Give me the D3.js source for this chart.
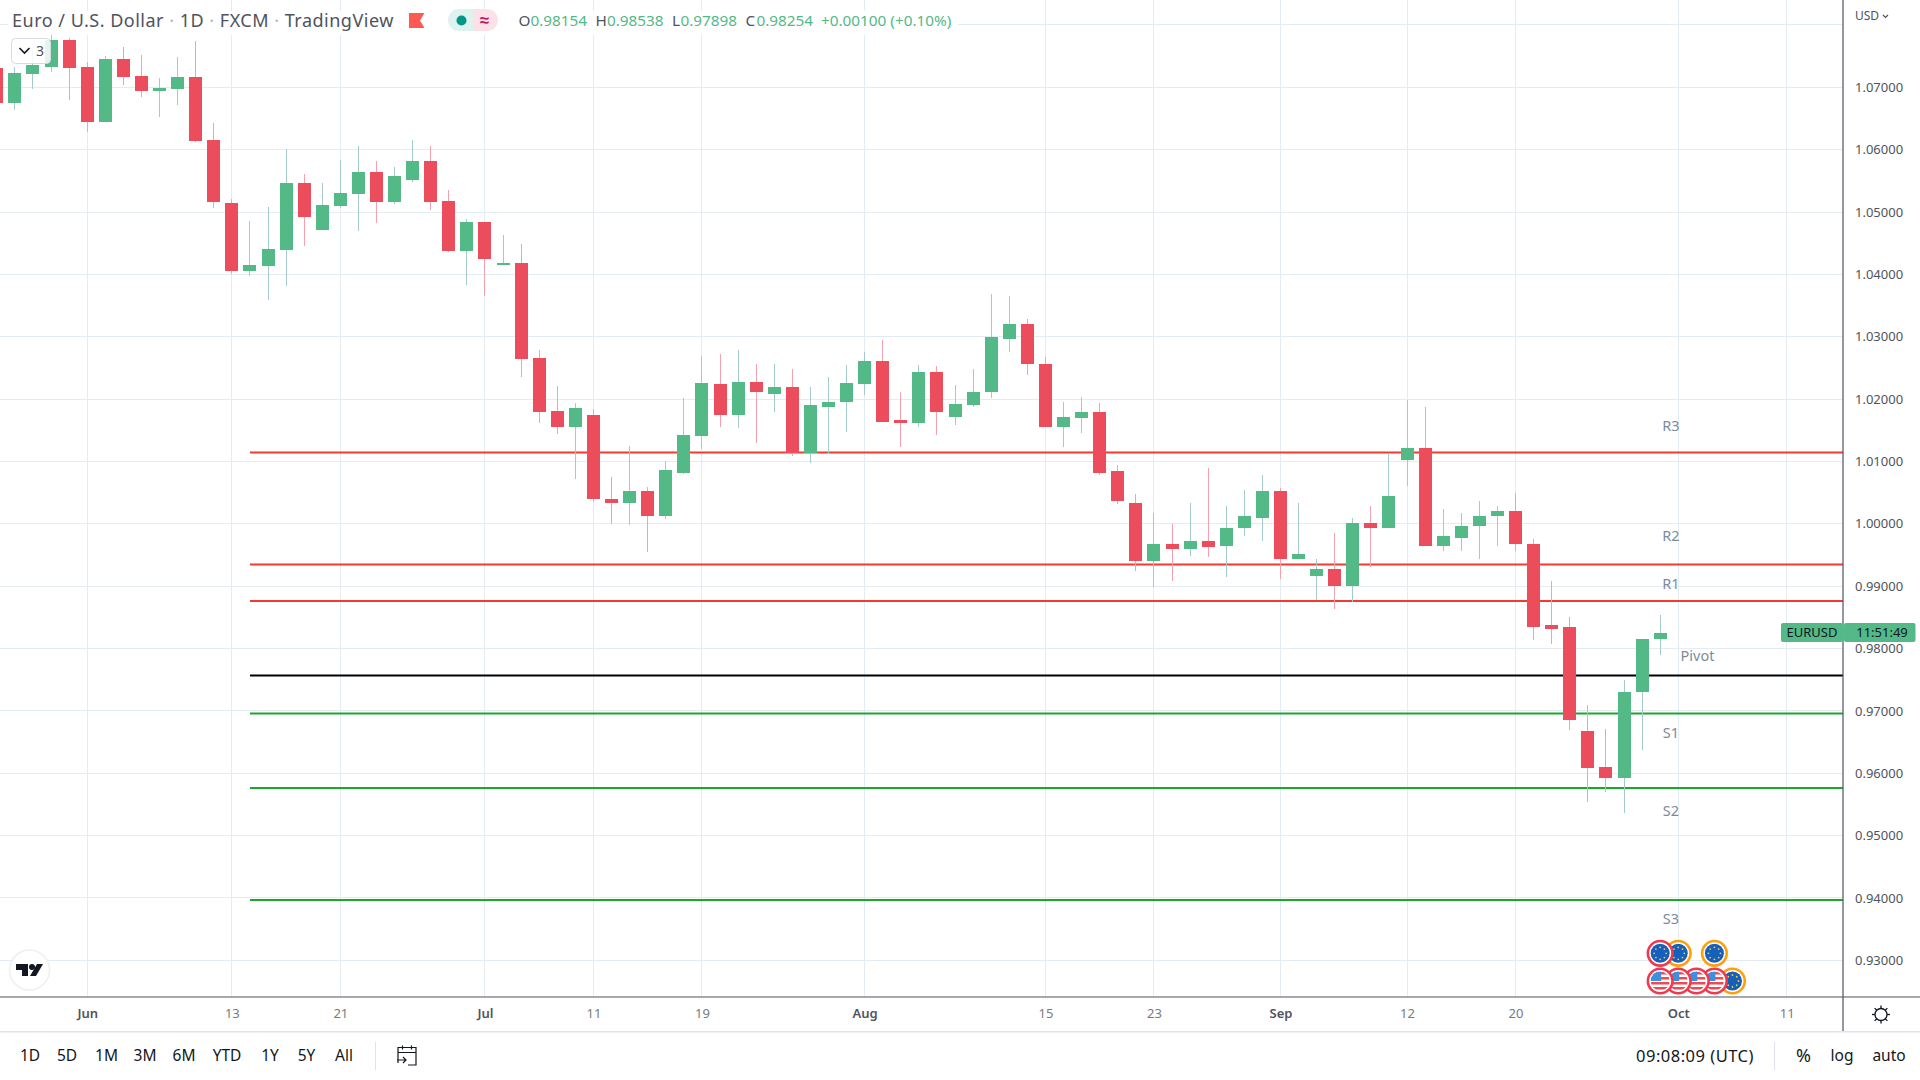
<!DOCTYPE html>
<html>
<head>
<meta charset="utf-8">
<title>EURUSD</title>
<script src="https://cdn.jsdelivr.net/npm/d3@7"></script>
<style>
    html, body { margin: 0; background: #fff; }
    svg { display: block; font-family: "Noto Sans", sans-serif; }
    .axis path, .axis line { display: none; }
    .axis text { font-family: "Noto Sans", sans-serif; }
</style>
</head>
<body>
<svg id="chart" width="1920" height="1080"></svg>
<script>
//daily candles, index 0 is the partly hidden bar on the left edge
const opens = [1.0731,1.0675,1.0721,1.0733,1.0776,1.0733,1.0644,1.0745,1.0718,1.0694,1.0697,1.0717,1.0616,1.0515,1.0405,1.0414,1.0439,1.0547,1.0471,1.0510,1.0529,1.0564,1.0516,1.0551,1.0582,1.0518,1.0438,1.0484,1.0415,1.0418,
    1.0266,1.0181,1.0156,1.0175,1.0040,1.0034,1.0053,1.0013,1.0082,1.0141,1.0224,1.0174,1.0227,1.0208,1.0219,1.0113,1.0188,1.0195,1.0224,1.0261,1.0166,1.0161,1.0244,1.0172,1.0190,1.0211,1.0297,1.0321,1.0257,1.0156,
    1.0169,1.0179,1.0084,1.0034,0.9940,0.9968,0.9960,0.9973,0.9964,0.9993,1.0010,1.0052,0.9943,0.9916,0.9927,0.9901,1.0002,0.9993,1.0103,1.0121,0.9965,0.9978,0.9996,1.0012,1.0021,0.9968,0.9837,0.9834,0.9668,0.9610,
    0.9593,0.9730,0.98154];
const highs = [1.0745,1.0732,1.0760,1.0787,1.0779,1.0740,1.0750,1.0765,1.0752,1.0715,1.0749,1.0774,1.0643,1.0521,1.0486,1.0508,1.0601,1.0561,1.0547,1.0583,1.0606,1.0582,1.0572,1.0616,1.0606,1.0535,1.0489,1.0484,1.0463,1.0449,
    1.0278,1.0221,1.0193,1.0184,1.0075,1.0124,1.0059,1.0100,1.0202,1.0269,1.0273,1.0279,1.0256,1.0257,1.0249,1.0220,1.0235,1.0254,1.0276,1.0295,1.0211,1.0254,1.0253,1.0222,1.0248,1.0368,1.0365,1.0328,1.0268,1.0195,
    1.0203,1.0193,1.0095,1.0047,1.0018,0.9999,1.0033,1.0090,1.0029,1.0055,1.0079,1.0057,1.0034,0.9944,0.9986,1.0010,1.0029,1.0113,1.0198,1.0187,1.0023,1.0018,1.0036,1.0029,1.0050,0.9975,0.9908,0.9851,0.9709,0.9671,
    0.9750,0.9816,0.98538];
const lows = [1.0665,1.0663,1.0698,1.0725,1.0680,1.0628,1.0644,1.0703,1.0684,1.0652,1.0672,1.0612,1.0507,1.0401,1.0397,1.0359,1.0381,1.0446,1.0471,1.0507,1.0470,1.0482,1.0513,1.0548,1.0503,1.0436,1.0383,1.0365,1.0415,1.0236,
    1.0162,1.0144,1.0072,1.0035,1.0000,0.9998,0.9954,1.0008,1.0080,1.0120,1.0155,1.0153,1.0129,1.0179,1.0108,1.0097,1.0114,1.0147,1.0206,1.0163,1.0123,1.0155,1.0142,1.0159,1.0188,1.0201,1.0275,1.0238,1.0155,1.0123,
    1.0145,1.0079,1.0031,0.9925,0.9899,0.9909,0.9949,0.9946,0.9914,0.9981,0.9972,0.9911,0.9943,0.9877,0.9864,0.9875,0.9930,0.9993,1.0060,0.9965,0.9956,0.9956,0.9944,0.9965,0.9956,0.9813,0.9807,0.9669,0.9554,0.9570,
    0.9536,0.9637,0.97898];
const closes = [1.0675,1.0723,1.0736,1.0776,1.0731,1.0644,1.0745,1.0717,1.0694,1.0699,1.0717,1.0614,1.0516,1.0405,1.0415,1.0441,1.0547,1.0492,1.0511,1.0531,1.0564,1.0516,1.0558,1.0582,1.0516,1.0438,1.0484,1.0425,1.0418,1.0265,
    1.0180,1.0156,1.0186,1.0039,1.0034,1.0053,1.0013,1.0087,1.0143,1.0225,1.0174,1.0227,1.0212,1.0219,1.0113,1.0190,1.0196,1.0225,1.0261,1.0164,1.0161,1.0244,1.0179,1.0192,1.0212,1.0299,1.0321,1.0256,1.0156,1.0171,
    1.0179,1.0082,1.0037,0.9940,0.9968,0.9960,0.9973,0.9962,0.9994,1.0012,1.0052,0.9943,0.9952,0.9927,0.9901,1.0002,0.9993,1.0044,1.0121,0.9965,0.9980,0.9997,1.0012,1.0021,0.9967,0.9835,0.9832,0.9685,0.9609,0.9593,
    0.9731,0.9816,0.98254];

const priceTicks = [0.93,0.94,0.95,0.96,0.97,0.98,0.99,1.00,1.01,1.02,1.03,1.04,1.05,1.06,1.07];
const gridOnlyPrice = 1.08; //label is covered by the USD button
const timeTickIndex = [5,13,19,27,33,39,48,58,64,71,78,84,93,99];
const timeTickLabels = ["Jun","13","21","Jul","11","19","Aug","15","23","Sep","12","20","Oct","11"];
const monthLabels = ["Jun","Jul","Aug","Sep","Oct"];

//pivot levels
const levelNames = ["R3","R2","R1","Pivot","S1","S2","S3"];
const levelValues = [1.01144,0.99348,0.98760,0.97568,0.96959,0.95765,0.93969];
const levelColors = ["#f23b2f","#f23b2f","#f23b2f","#000000","#1aa82a","#1aa82a","#1aa82a"];
const levelLabelOffset = [-26.8,-28.8,-17.2,-19.8,19.2,22.8,19.5]; //gap label to line, px

//economic calendar marks, drawn back to front: bar index, flag, importance
const eventIndex = [95,93,92,96,95,94,93,92];
const eventFlag = ["eu","eu","eu","eu","us","us","us","us"];
const eventImpact = ["mid","mid","high","mid","high","high","high","high"];
const eventRow = [0,0,0,1,1,1,1,1];

const rangeButtons = ["1D","5D","1M","3M","6M","YTD","1Y","5Y","All"];
const rangeButtonX = [30,67,106.5,145,184,227,270,306.5,344];

const width = 1920, height = 1080;
const axisX = 1843, axisY = 997;
const upColor = "#53b987", downColor = "#eb4d5c";
const upWick = "#a3cbcb", downWick = "#f4a3ae";
const gridColor = "#e3ecf2", axisColor = "#50535e", textColor = "#131722";

const x = d3.scaleLinear().domain([0, 100]).range([-3.2, 1804.8]);
const y = d3.scaleLinear().domain([0.93, 1.07]).range([960.3, 87.3]);

const svg = d3.select("#chart");

//grid
const gridGroup = svg.append("g").attr("shape-rendering", "crispEdges");
gridGroup.selectAll(".hgrid")
    .data([...priceTicks, gridOnlyPrice])
    .join("line")
    .attr("x1", 0).attr("x2", axisX)
    .attr("y1", d => y(d)).attr("y2", d => y(d))
    .attr("stroke", gridColor);
gridGroup.selectAll(".vgrid")
    .data(timeTickIndex)
    .join("line")
    .attr("x1", d => x(d)).attr("x2", d => x(d))
    .attr("y1", 0).attr("y2", axisY)
    .attr("stroke", gridColor);

//pivot lines sit under the candles
svg.append("g").selectAll("line")
    .data(levelValues)
    .join("line")
    .attr("x1", 250).attr("x2", axisX)
    .attr("y1", d => y(d)).attr("y2", d => y(d))
    .attr("stroke", (d, i) => levelColors[i])
    .attr("stroke-width", 2);

svg.append("g").selectAll("text")
    .data(levelNames)
    .join("text")
    .attr("x", d => d === "Pivot" ? 1697.5 : 1671)
    .attr("y", (d, i) => y(levelValues[i]) + levelLabelOffset[i])
    .attr("dy", "0.35em")
    .attr("text-anchor", "middle")
    .attr("font-size", 14.5)
    .attr("fill", "#7c8b9c")
    .text(d => d);

//candles
const candles = svg.append("g").selectAll("g")
    .data(opens.map((o, i) => i))
    .join("g");
candles.append("line")
    .attr("shape-rendering", "crispEdges")
    .attr("x1", i => x(i)).attr("x2", i => x(i))
    .attr("y1", i => y(highs[i])).attr("y2", i => y(lows[i]))
    .attr("stroke", i => closes[i] >= opens[i] ? upWick : downWick);
candles.append("rect")
    .attr("shape-rendering", "crispEdges")
    .attr("x", i => x(i) - 6.5)
    .attr("width", 13)
    .attr("y", i => y(Math.max(opens[i], closes[i])))
    .attr("height", i => Math.max(2, Math.abs(y(opens[i]) - y(closes[i]))))
    .attr("fill", i => closes[i] >= opens[i] ? upColor : downColor);

//calendar marks
const defs = svg.append("defs");
const flagClip = defs.append("clipPath").attr("id", "flagClip");
flagClip.append("circle").attr("r", 9.5);
const rowY = [953.3, 981];
const starAngles = d3.range(0, 360, 45);
const stripeY = [-9, -4, 1, 6];

function drawFlag(g, flag) {
    const inner = g.append("g").attr("clip-path", "url(#flagClip)");
    if (flag === "eu") {
        inner.append("rect").attr("x", -10).attr("y", -10).attr("width", 20).attr("height", 20).attr("fill", "#1560bd");
        inner.selectAll("circle").data(starAngles).join("circle")
            .attr("cx", a => 6 * Math.cos(a * Math.PI / 180))
            .attr("cy", a => 6 * Math.sin(a * Math.PI / 180))
            .attr("r", 0.9)
            .attr("fill", "#f4c93b");
    } else {
        inner.append("rect").attr("x", -10).attr("y", -10).attr("width", 20).attr("height", 20).attr("fill", "#fff");
        inner.selectAll(".stripe").data(stripeY).join("rect")
            .attr("x", -10).attr("y", d => d)
            .attr("width", 20).attr("height", 2.5)
            .attr("fill", "#ee4a56");
        inner.append("rect").attr("x", -10).attr("y", -10).attr("width", 11).attr("height", 10).attr("fill", "#3d8fe0");
    }
}

eventIndex.forEach((d, i) => {
    const mark = svg.append("g").attr("transform", `translate(${x(d)},${rowY[eventRow[i]]})`);
    mark.append("circle")
        .attr("r", 12.3)
        .attr("fill", "#fff")
        .attr("stroke", eventImpact[i] === "high" ? "#f0394d" : "#ff9f0a")
        .attr("stroke-width", 2.6);
    drawFlag(mark, eventFlag[i]);
});

//legend row
svg.append("rect").attr("x", 8).attr("y", 11).attr("width", 950).attr("height", 24).attr("fill", "#fff").attr("opacity", 0.92);
const title = svg.append("text").attr("x", 12).attr("y", 21).attr("dy", "0.35em").attr("font-size", 18).attr("letter-spacing", 0.5).attr("fill", "#50535e");
["Euro / U.S. Dollar", " · ", "1D", " · ", "FXCM", " · ", "TradingView"].forEach(t => {
    title.append("tspan").attr("fill", t === " · " ? "#b2b5be" : "#50535e").text(t);
});
svg.append("path").attr("d", "M409,13H424.5L420,20.5L424.5,28H409Z").attr("fill", "#ff5a52");

svg.append("path").attr("d", "M473,9H459A11,11 0 0 0 459,31H473Z").attr("fill", "#def2ef");
svg.append("path").attr("d", "M473,9H487A11,11 0 0 1 487,31H473Z").attr("fill", "#fce1e9");
svg.append("circle").attr("cx", 461.5).attr("cy", 20.5).attr("r", 5).attr("fill", "#009688");
svg.append("text").attr("x", 484.5).attr("y", 20.5).attr("dy", "0.35em").attr("text-anchor", "middle")
    .attr("font-size", 17).attr("font-weight", 700).attr("fill", "#c2185b").text("≈");

const ohlcNames = ["O","H","L","C"];
const ohlcValues = ["0.98154","0.98538","0.97898","0.98254"];
const ohlcX = [518.5,595.5,672,745.5];
const ohlcValueX = [530.5,607,680.5,756.5];
ohlcNames.forEach((n, i) => {
    svg.append("text").attr("x", ohlcX[i]).attr("y", 21).attr("dy", "0.35em").attr("font-size", 15.3).attr("fill", "#50535e").text(n);
    svg.append("text").attr("x", ohlcValueX[i]).attr("y", 21).attr("dy", "0.35em").attr("font-size", 15.3).attr("fill", upColor).text(ohlcValues[i]);
});
svg.append("text").attr("x", 821).attr("y", 21).attr("dy", "0.35em").attr("font-size", 15.3).attr("fill", upColor).text("+0.00100 (+0.10%)");

//collapsed indicators button
svg.append("rect").attr("x", 11.5).attr("y", 38.5).attr("width", 39).attr("height", 25).attr("rx", 4)
    .attr("fill", "#fff").attr("fill-opacity", 0.85).attr("stroke", "#d6dae2");
svg.append("path").attr("d", "M19.5,48L24.5,53L29.5,48").attr("fill", "none").attr("stroke", textColor).attr("stroke-width", 1.6);
svg.append("text").attr("x", 40).attr("y", 51).attr("dy", "0.35em").attr("text-anchor", "middle")
    .attr("font-size", 14).attr("fill", "#50535e").text("3");

//logo
svg.append("circle").attr("cx", 29.5).attr("cy", 970).attr("r", 20).attr("fill", "#fff").attr("stroke", "#eeeff2").attr("stroke-width", 1.5);
svg.append("path").attr("d", "M16,964H28V976H22V970H16Z").attr("fill", "#131722");
svg.append("circle").attr("cx", 32).attr("cy", 967).attr("r", 3).attr("fill", "#131722");
svg.append("path").attr("d", "M37,964H43L36,976H30Z").attr("fill", "#131722");

//frames and panels
svg.append("line").attr("x1", 0).attr("x2", width).attr("y1", axisY).attr("y2", axisY).attr("stroke", axisColor).attr("stroke-width", 1.2);
svg.append("line").attr("x1", axisX).attr("x2", axisX).attr("y1", 0).attr("y2", 1031).attr("stroke", axisColor).attr("stroke-width", 1.2);
svg.append("line").attr("x1", 0).attr("x2", width).attr("y1", 1031.7).attr("y2", 1031.7).attr("stroke", "#e0e3eb").attr("stroke-width", 1.5);

//axes
const priceAxis = d3.axisRight(y)
    .tickValues(priceTicks)
    .tickFormat(d3.format(".5f"))
    .tickSize(0)
    .tickPadding(12);
svg.append("g").attr("class", "axis").attr("transform", `translate(${axisX},0)`).call(priceAxis)
    .selectAll("text").attr("font-size", 13).attr("fill", "#50535e");

const timeAxis = d3.axisBottom(x)
    .tickValues(timeTickIndex)
    .tickFormat((d, i) => timeTickLabels[i])
    .tickSize(0)
    .tickPadding(12);
svg.append("g").attr("class", "axis").attr("transform", `translate(0,${axisY})`).call(timeAxis)
    .selectAll("text")
    .attr("font-size", 13)
    .attr("font-weight", (d, i) => monthLabels.includes(timeTickLabels[i]) ? 600 : 400)
    .attr("fill", (d, i) => monthLabels.includes(timeTickLabels[i]) ? "#50535e" : "#787b86");

svg.append("text").attr("x", 1855).attr("y", 16).attr("dy", "0.35em").attr("font-size", 12).attr("fill", "#50535e").text("USD");
svg.append("path").attr("d", "M1883,15L1885.5,17.5L1888,15").attr("fill", "none").attr("stroke", "#50535e").attr("stroke-width", 1.2);

//last price tag
svg.append("rect").attr("x", 1781).attr("y", 623).attr("width", 62).attr("height", 19).attr("rx", 2).attr("fill", upColor);
svg.append("rect").attr("x", 1844).attr("y", 623).attr("width", 71.5).attr("height", 19).attr("rx", 2).attr("fill", upColor);
svg.append("text").attr("x", 1812).attr("y", 632.5).attr("dy", "0.35em").attr("text-anchor", "middle")
    .attr("font-size", 13).attr("fill", textColor).text("EURUSD");
svg.append("text").attr("x", 1882).attr("y", 632.5).attr("dy", "0.35em").attr("text-anchor", "middle")
    .attr("font-size", 13).attr("fill", textColor).text("11:51:49");

//settings gear
svg.append("circle").attr("cx", 1881).attr("cy", 1014.5).attr("r", 6).attr("fill", "none").attr("stroke", textColor).attr("stroke-width", 1.3);
svg.append("g").selectAll("line").data(starAngles).join("line")
    .attr("x1", a => 1881 + 6 * Math.cos(a * Math.PI / 180))
    .attr("y1", a => 1014.5 + 6 * Math.sin(a * Math.PI / 180))
    .attr("x2", a => 1881 + 9 * Math.cos(a * Math.PI / 180))
    .attr("y2", a => 1014.5 + 9 * Math.sin(a * Math.PI / 180))
    .attr("stroke", textColor).attr("stroke-width", 1.3);

//bottom toolbar
svg.append("g").selectAll("text").data(rangeButtons).join("text")
    .attr("x", (d, i) => rangeButtonX[i])
    .attr("y", 1056).attr("dy", "0.35em")
    .attr("text-anchor", "middle")
    .attr("font-size", 15.5)
    .attr("fill", textColor)
    .text(d => d);
svg.append("line").attr("x1", 375.5).attr("x2", 375.5).attr("y1", 1042).attr("y2", 1070).attr("stroke", "#e0e3eb");
svg.append("path")
    .attr("d", "M398,1063V1047.5H416V1065H408M398,1052.5H416M402.5,1045.5V1049.5M411.5,1045.5V1049.5M397,1060H406M403,1057L406,1060L403,1063")
    .attr("fill", "none").attr("stroke", textColor).attr("stroke-width", 1.2);
svg.append("text").attr("x", 1636).attr("y", 1056).attr("dy", "0.35em").attr("font-size", 16.5).attr("letter-spacing", 0.5).attr("fill", textColor).text("09:08:09 (UTC)");
svg.append("line").attr("x1", 1774.5).attr("x2", 1774.5).attr("y1", 1042).attr("y2", 1070).attr("stroke", "#e0e3eb");
const rightButtons = ["%", "log", "auto"];
const rightButtonX = [1803.5, 1842, 1889];
rightButtons.forEach((t, i) => {
    svg.append("text").attr("x", rightButtonX[i]).attr("y", 1056).attr("dy", "0.35em").attr("text-anchor", "middle")
        .attr("font-size", t === "%" ? 18 : 15.5).attr("fill", textColor).text(t);
});
</script>
</body>
</html>
